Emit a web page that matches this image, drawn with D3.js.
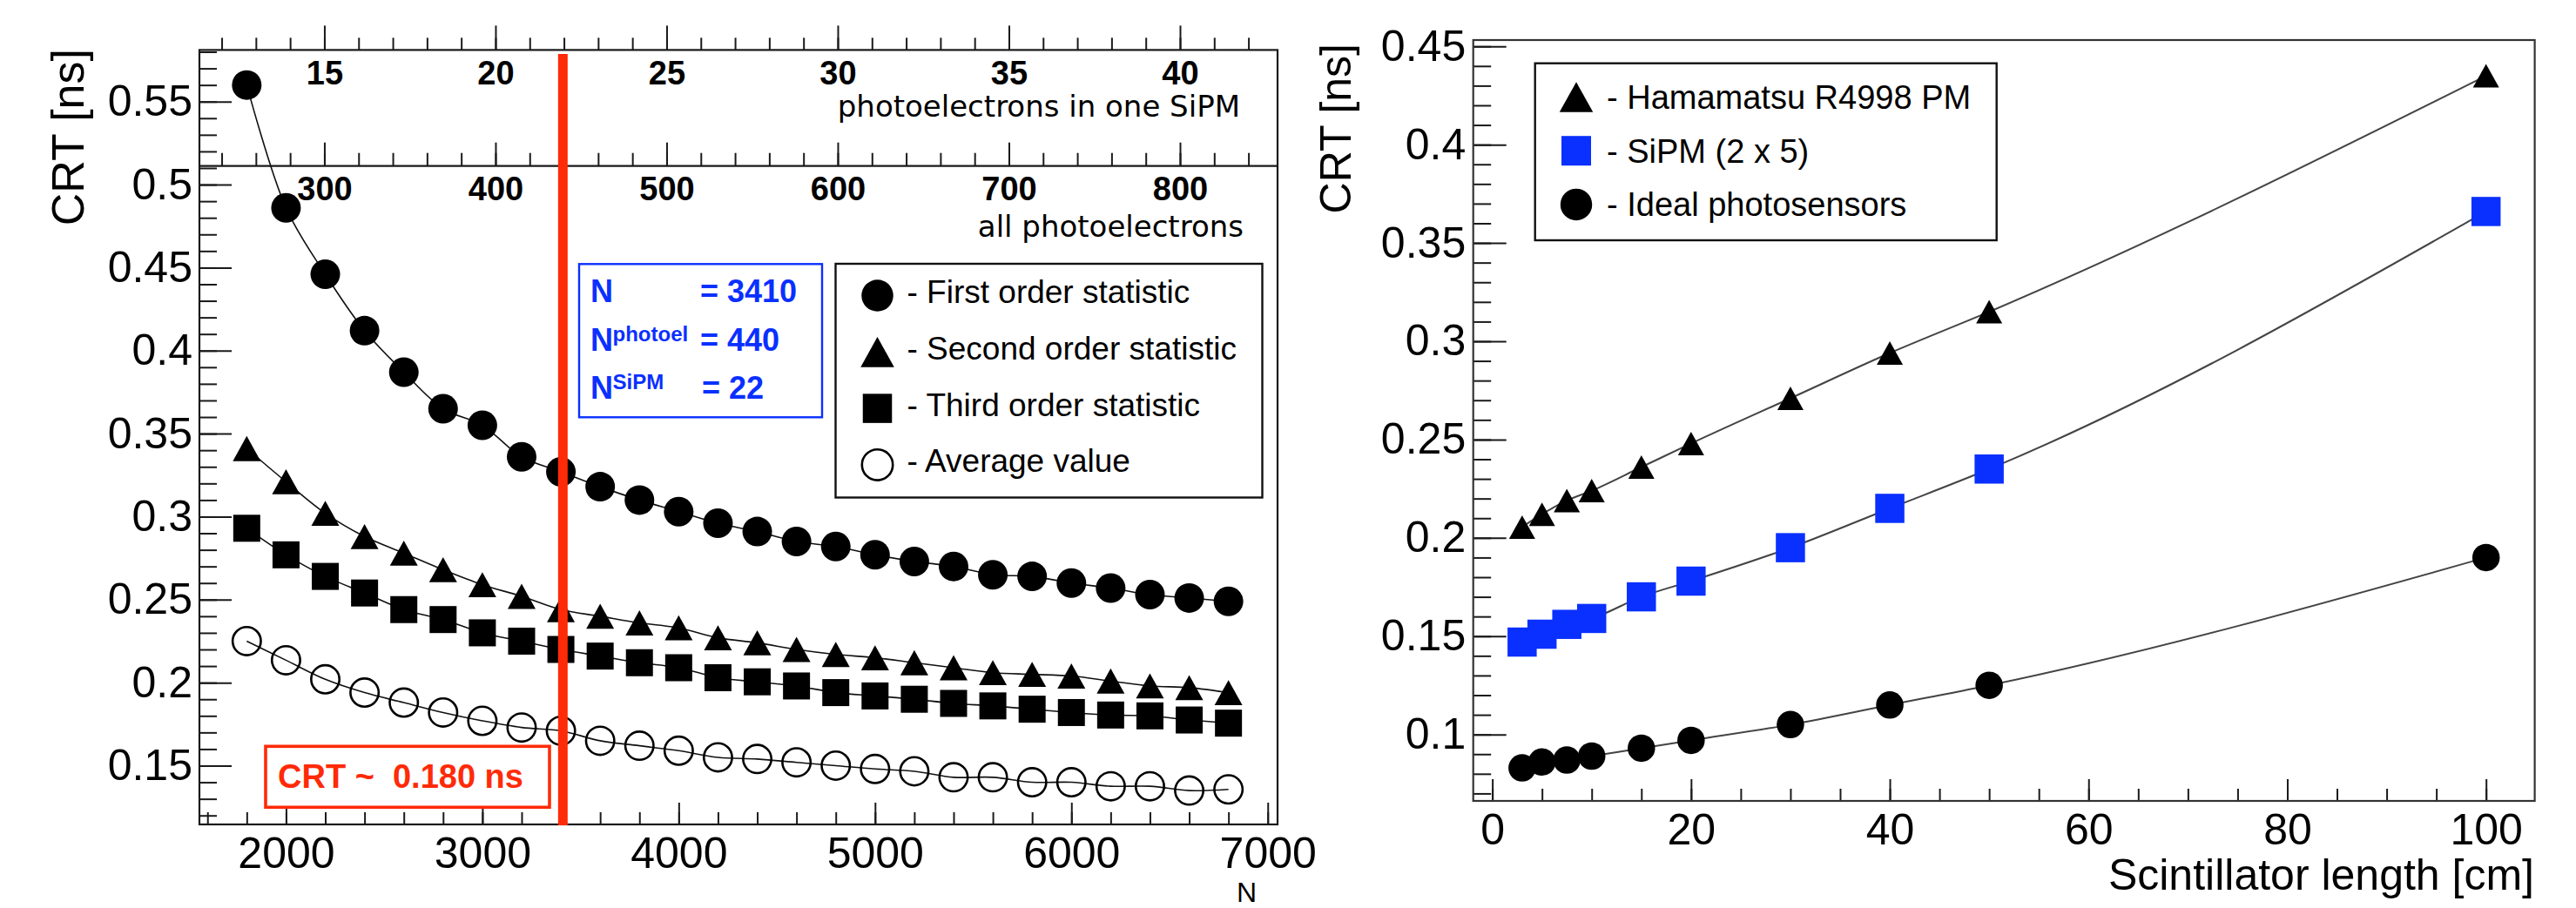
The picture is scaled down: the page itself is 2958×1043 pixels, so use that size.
<!DOCTYPE html>
<html>
<head>
<meta charset="utf-8">
<script src="https://cdn.jsdelivr.net/npm/d3@7"></script>
<style>
  body { margin: 0; background: #ffffff; }
</style>
</head>
<body>
<div id="chart"></div>
<script>

// left chart: number of photons N and the four statistics
var nValues = [1800, 2000, 2200, 2400, 2600, 2800, 3000, 3200, 3400, 3600, 3800, 4000, 4200,
  4400, 4600, 4800, 5000, 5200, 5400, 5600, 5800, 6000, 6200, 6400, 6600, 6800];
var firstOrder = [0.560, 0.486, 0.446, 0.412, 0.387, 0.365, 0.355, 0.336, 0.327, 0.318, 0.310, 0.303, 0.296,
  0.291, 0.285, 0.282, 0.277, 0.273, 0.270, 0.265, 0.264, 0.260, 0.257, 0.253, 0.251, 0.249];
var secondOrder = [0.341, 0.321, 0.302, 0.288, 0.278, 0.268, 0.259, 0.252, 0.244, 0.240, 0.236, 0.233, 0.227,
  0.224, 0.220, 0.217, 0.215, 0.212, 0.209, 0.206, 0.205, 0.204, 0.201, 0.198, 0.197, 0.194];
var thirdOrder = [0.293, 0.277, 0.264, 0.254, 0.244, 0.238, 0.230, 0.225, 0.220, 0.216, 0.212, 0.209, 0.203,
  0.2005, 0.198, 0.194, 0.192, 0.190, 0.1875, 0.186, 0.184, 0.182, 0.1805, 0.180, 0.1775, 0.1756];
var averageValue = [0.225, 0.2135, 0.202, 0.194, 0.188, 0.182, 0.177, 0.173, 0.171, 0.165, 0.162, 0.159, 0.155,
  0.154, 0.152, 0.150, 0.148, 0.1466, 0.143, 0.143, 0.140, 0.140, 0.1376, 0.1376, 0.135, 0.1357];

// right chart: scintillator length and the three photosensors
var lengthValues = [3, 5, 7.5, 10, 15, 20, 30, 40, 50, 100];
var hamamatsu = [0.2055, 0.212, 0.219, 0.224, 0.236, 0.248, 0.271, 0.294, 0.315, 0.435];
var sipm = [0.147, 0.151, 0.156, 0.159, 0.170, 0.178, 0.195, 0.215, 0.235, 0.366];
var ideal = [0.083, 0.086, 0.087, 0.089, 0.093, 0.097, 0.105, 0.115, 0.125, 0.190];

// tick labels
var leftYTicks = [0.15, 0.2, 0.25, 0.3, 0.35, 0.4, 0.45, 0.5, 0.55];
var leftXTicks = [2000, 3000, 4000, 5000, 6000, 7000];
var sipmTicks = [15, 20, 25, 30, 35, 40];
var allTicks = [300, 400, 500, 600, 700, 800];
var rightYTicks = [0.1, 0.15, 0.2, 0.25, 0.3, 0.35, 0.4, 0.45];
var rightXTicks = [0, 20, 40, 60, 80, 100];

// the working point marked by the red line
var markedN = 3410;

var font = "'Liberation Sans', Arial, Helvetica, sans-serif";
var blue = "#0a30ff";
var red = "#ff2a08";

var svg = d3.select("#chart")
  .append("svg")
  .attr("width", 2958)
  .attr("height", 1043);

svg.append("rect")
  .attr("width", 2958)
  .attr("height", 1043)
  .attr("fill", "white");

// left chart scales
var xN = d3.scaleLinear().domain([1559, 7050]).range([229, 1467]);
var xSipm = d3.scaleLinear().domain([11.35, 42.85]).range([229, 1467]);
var xAll = d3.scaleLinear().domain([227, 857]).range([229, 1467]);
var yLeft = d3.scaleLinear().domain([0.1146, 0.5811]).range([947, 57.4]);

// right chart scales
var xLen = d3.scaleLinear().domain([-1.92, 104.9]).range([1691.7, 2910.6]);
var yRight = d3.scaleLinear().domain([0.0662, 0.4532]).range([920, 46]);

// draw one set of ticks (major or minor) with an axis generator
function ticks(tx, ty, axisFn, scale, values, size, padding, fontSize, weight) {
  var axis = axisFn(scale)
    .tickValues(values)
    .tickSize(size)
    .tickPadding(padding);
  if (fontSize) {
    axis.tickFormat(function(d) { return String(d); });
  } else {
    axis.tickFormat("");
  }
  var g = svg.append("g")
    .attr("transform", "translate(" + tx + "," + ty + ")")
    .call(axis)
    .attr("font-family", font)
    .attr("font-size", fontSize || 10)
    .attr("font-weight", weight || "normal");
  g.select(".domain").remove();
  g.selectAll(".tick line")
    .attr("stroke", "#1a1a1a")
    .attr("stroke-width", 2);
  return g;
}

// ---------------- left chart ----------------

// y axis (ticks point into the frame)
ticks(229, 0, d3.axisLeft, yLeft, d3.range(0.12, 0.585, 0.01), -20, 0);
ticks(229, 0, d3.axisLeft, yLeft, leftYTicks, -37, 8, 50);

// bottom x axis
ticks(0, 947, d3.axisBottom, xN, d3.range(1600, 7001, 200), -14, 0);
ticks(0, 947, d3.axisBottom, xN, leftXTicks, -25, 14, 50);

// top axis: photoelectrons in one SiPM
ticks(0, 57.4, d3.axisBottom, xSipm, d3.range(12, 42.5, 1), -14, 0);
ticks(0, 57.4, d3.axisBottom, xSipm, sipmTicks, -28, 12.6, 38, "bold");

// second axis: all photoelectrons
ticks(0, 190.7, d3.axisBottom, xAll, d3.range(240, 850, 20), -15, 0);
ticks(0, 190.7, d3.axisBottom, xAll, allTicks, -27, 12.6, 38, "bold");

// frame and separator line
svg.append("rect")
  .attr("x", 229).attr("y", 57.4)
  .attr("width", 1238).attr("height", 889.6)
  .attr("fill", "none")
  .attr("stroke", "#1a1a1a")
  .attr("stroke-width", 2.2);

svg.append("line")
  .attr("x1", 229).attr("x2", 1467)
  .attr("y1", 190.7).attr("y2", 190.7)
  .attr("stroke", "#1a1a1a")
  .attr("stroke-width", 2.2);

// axis titles
svg.append("text")
  .attr("x", 1424).attr("y", 134)
  .attr("text-anchor", "end")
  .attr("font-family", "'DejaVu Sans', Verdana, sans-serif")
  .attr("font-size", 34)
  .text("photoelectrons in one SiPM");

svg.append("text")
  .attr("x", 1428).attr("y", 272)
  .attr("text-anchor", "end")
  .attr("font-family", "'DejaVu Sans', Verdana, sans-serif")
  .attr("font-size", 34)
  .text("all photoelectrons");

svg.append("text")
  .attr("transform", "translate(96,56) rotate(-90)")
  .attr("text-anchor", "end")
  .attr("font-family", font)
  .attr("font-size", 52)
  .text("CRT [ns]");

svg.append("text")
  .attr("x", 1443).attr("y", 1035.5)
  .attr("text-anchor", "end")
  .attr("font-family", font)
  .attr("font-size", 32)
  .text("N");

// marker helper
function marker(g, shape, cx, cy, size, color) {
  if (shape == "circle" || shape == "open") {
    g.append("circle")
      .attr("cx", cx).attr("cy", cy)
      .attr("r", shape == "open" ? size / 2 - 1.3 : size / 2)
      .attr("fill", shape == "open" ? "none" : color)
      .attr("stroke", shape == "open" ? color : "none")
      .attr("stroke-width", 2.6);
  } else if (shape == "square") {
    g.append("rect")
      .attr("x", cx - size / 2).attr("y", cy - size / 2)
      .attr("width", size).attr("height", size)
      .attr("fill", color);
  } else {
    var h = size * 0.9;
    g.append("path")
      .attr("d", "M" + (cx - size / 2) + "," + (cy + h / 2) +
        "L" + (cx + size / 2) + "," + (cy + h / 2) +
        "L" + cx + "," + (cy - h / 2) + "Z")
      .attr("fill", color);
  }
}

// series of the left chart
var leftSeries = [
  { values: firstOrder, shape: "circle", size: 34 },
  { values: secondOrder, shape: "triangle", size: 32 },
  { values: thirdOrder, shape: "square", size: 31 },
  { values: averageValue, shape: "open", size: 35 }
];

var leftLine = d3.line()
  .x(function(d) { return xN(d.x); })
  .y(function(d) { return yLeft(d.y); })
  .curve(d3.curveCatmullRom.alpha(0.5));

leftSeries.forEach(function(s) {
  var pts = nValues.map(function(n, i) { return { x: n, y: s.values[i] }; });
  svg.append("path")
    .datum(pts)
    .attr("d", leftLine)
    .attr("fill", "none")
    .attr("stroke", "#111")
    .attr("stroke-width", 1.6);
  var g = svg.append("g");
  pts.forEach(function(p) {
    marker(g, s.shape, xN(p.x), yLeft(p.y), s.size, "#000");
  });
});

// red line at the working point
svg.append("line")
  .attr("x1", xN(markedN)).attr("x2", xN(markedN))
  .attr("y1", 62).attr("y2", 948)
  .attr("stroke", red)
  .attr("stroke-width", 11);

// red box with the value
svg.append("rect")
  .attr("x", 305).attr("y", 857.3)
  .attr("width", 326).attr("height", 70)
  .attr("fill", "white")
  .attr("stroke", red)
  .attr("stroke-width", 3.6);

svg.append("text")
  .attr("x", 319).attr("y", 905)
  .attr("font-family", font)
  .attr("font-size", 38)
  .attr("font-weight", "bold")
  .attr("fill", red)
  .attr("xml:space", "preserve")
  .text("CRT ~  0.180 ns");

// blue box with the numbers of the working point
svg.append("rect")
  .attr("x", 665).attr("y", 303.3)
  .attr("width", 279).attr("height", 176)
  .attr("fill", "white")
  .attr("stroke", blue)
  .attr("stroke-width", 2.4);

var blueRows = [
  { sup: "", value: "= 3410", y: 346.7, ex: 804 },
  { sup: "photoel", value: "= 440", y: 402.7, ex: 804 },
  { sup: "SiPM", value: "= 22", y: 458.3, ex: 806 }
];

blueRows.forEach(function(r) {
  svg.append("text")
    .attr("x", 678).attr("y", r.y)
    .attr("font-family", font).attr("font-size", 36)
    .attr("font-weight", "bold").attr("fill", blue)
    .text("N");
  if (r.sup) {
    svg.append("text")
      .attr("x", 703.5).attr("y", r.y - 11)
      .attr("font-family", font).attr("font-size", 24)
      .attr("font-weight", "bold").attr("fill", blue)
      .text(r.sup);
  }
  svg.append("text")
    .attr("x", r.ex).attr("y", r.y)
    .attr("font-family", font).attr("font-size", 36)
    .attr("font-weight", "bold").attr("fill", blue)
    .text(r.value);
});

// legend of the left chart
svg.append("rect")
  .attr("x", 959.5).attr("y", 303)
  .attr("width", 490).attr("height", 268.5)
  .attr("fill", "white")
  .attr("stroke", "#111")
  .attr("stroke-width", 2.4);

var leftLegend = [
  { label: "- First order statistic", shape: "circle", size: 36.5 },
  { label: "- Second order statistic", shape: "triangle", size: 38.5 },
  { label: "- Third order statistic", shape: "square", size: 33.5 },
  { label: "- Average value", shape: "open", size: 38 }
];

var legendG = svg.append("g");
leftLegend.forEach(function(d, i) {
  var base = 348 + i * 64.8;
  marker(legendG, d.shape, 1007.5, base - 8.5, d.size, "#000");
  legendG.append("text")
    .attr("x", 1041.5).attr("y", base)
    .attr("font-family", font)
    .attr("font-size", 37)
    .text(d.label);
});

// ---------------- right chart ----------------

ticks(1691.7, 0, d3.axisLeft, yRight, d3.range(0.07, 0.455, 0.01), -20.5, 0);
ticks(1691.7, 0, d3.axisLeft, yRight, rightYTicks, -38, 8.5, 50);

ticks(0, 920, d3.axisBottom, xLen, d3.range(0, 101, 5), -14, 0);
ticks(0, 920, d3.axisBottom, xLen, rightXTicks, -25, 14, 50);

svg.append("rect")
  .attr("x", 1691.7).attr("y", 46)
  .attr("width", 1218.9).attr("height", 874)
  .attr("fill", "none")
  .attr("stroke", "#333")
  .attr("stroke-width", 2.2);

svg.append("text")
  .attr("transform", "translate(1551,50) rotate(-90)")
  .attr("text-anchor", "end")
  .attr("font-family", font)
  .attr("font-size", 50)
  .text("CRT [ns]");

svg.append("text")
  .attr("x", 2910).attr("y", 1022)
  .attr("text-anchor", "end")
  .attr("font-family", font)
  .attr("font-size", 50)
  .text("Scintillator length [cm]");

var rightSeries = [
  { values: hamamatsu, shape: "triangle", size: 30, color: "#000" },
  { values: sipm, shape: "square", size: 33.5, color: blue },
  { values: ideal, shape: "circle", size: 31.5, color: "#000" }
];

var rightLine = d3.line()
  .x(function(d) { return xLen(d.x); })
  .y(function(d) { return yRight(d.y); })
  .curve(d3.curveMonotoneX);

rightSeries.forEach(function(s) {
  var pts = lengthValues.map(function(l, i) { return { x: l, y: s.values[i] }; });
  svg.append("path")
    .datum(pts)
    .attr("d", rightLine)
    .attr("fill", "none")
    .attr("stroke", "#444")
    .attr("stroke-width", 2);
  var g = svg.append("g");
  pts.forEach(function(p) {
    marker(g, s.shape, xLen(p.x), yRight(p.y), s.size, s.color);
  });
});

// legend of the right chart
svg.append("rect")
  .attr("x", 1762.7).attr("y", 72.7)
  .attr("width", 530).attr("height", 203.3)
  .attr("fill", "white")
  .attr("stroke", "#111")
  .attr("stroke-width", 2.4);

var rightLegend = [
  { label: "- Hamamatsu R4998 PM", shape: "triangle", size: 38.5, color: "#000" },
  { label: "- SiPM (2 x 5)", shape: "square", size: 34, color: blue },
  { label: "- Ideal photosensors", shape: "circle", size: 36.5, color: "#000" }
];

var legendR = svg.append("g");
rightLegend.forEach(function(d, i) {
  var base = 125 + i * 61.7;
  marker(legendR, d.shape, 1810, base - 13.5, d.size, d.color);
  legendR.append("text")
    .attr("x", 1845).attr("y", base)
    .attr("font-family", font)
    .attr("font-size", 38)
    .text(d.label);
});

</script>
</body>
</html>
